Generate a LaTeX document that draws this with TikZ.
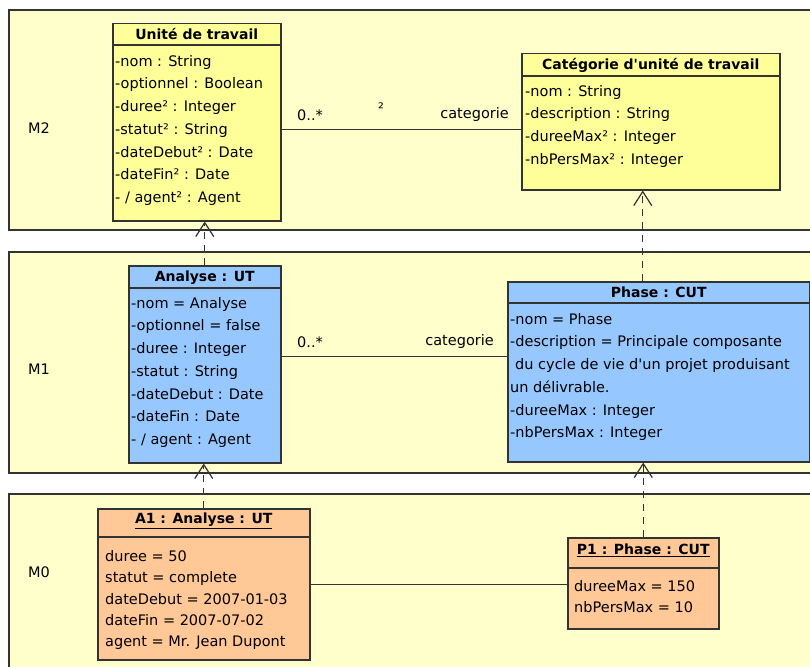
\documentclass[tikz,border=0pt]{standalone}
\usepackage{fontspec}
\setmainfont{DejaVu Sans}
\usepackage{xcolor}
\usetikzlibrary{positioning}
\usetikzlibrary{arrows.meta}

\definecolor{layerbg}{RGB}{255,255,204}
\definecolor{classyellow}{RGB}{255,255,153}
\definecolor{classblue}{RGB}{150,200,255}
\definecolor{objorange}{RGB}{255,200,150}
\definecolor{bordergray}{RGB}{51,51,51}

\begin{document}
\begin{tikzpicture}[x=1pt,y=-1pt,
	metalayer/.style={draw=bordergray,line width=1.2pt,fill=layerbg},
	classbox/.style={draw=bordergray,line width=1.5pt,inner sep=0pt,anchor=north west},
	classtitle/.style={font=\fontsize{14}{16}\selectfont\bfseries,inner sep=0pt},
	attrs/.style={font=\fontsize{14.5}{22.7}\selectfont,align=left,inner sep=0pt,anchor=north west},
	assoctext/.style={font=\fontsize{14.5}{17}\selectfont,inner sep=0pt},
	assoc/.style={draw=bordergray,line width=1.2pt},
	realize/.style={draw=bordergray,line width=1.2pt,dash pattern=on 7pt off 6pt,
		-{Straight Barb[length=14pt,width=18pt,line width=1.2pt]}}]
	
	\useasboundingbox (0,0) rectangle (810,666);
	\clip (0,0) rectangle (810,666);
	\fill[white] (0,0) rectangle (810,666);
	
	% meta levels
	\draw[metalayer] (9,10) rectangle (830,230);
	\draw[metalayer] (9,252) rectangle (830,473);
	\draw[metalayer] (9,494) rectangle (830,690);
	\node[assoctext,anchor=west] (m2) at (28,128) {M2};
	\node[assoctext,anchor=west] (m1) at (28,369) {M1};
	\node[assoctext,anchor=west] (m0) at (28,572) {M0};
	
	% M2 classes
	\node[classbox,fill=classyellow,minimum width=168pt,minimum height=197pt] (ut) at (112,23) {};
	\draw[bordergray,line width=1.5pt] ([yshift=-22pt]ut.north west) -- ([yshift=-22pt]ut.north east);
	\node[classtitle] (ut-title) at ([yshift=-11.5pt]ut.north) {Unité de travail};
	\node[attrs] (ut-attr) at (115,55) {-nom : String\\-optionnel : Boolean\\-duree² : Integer\\-statut² : String\\-dateDebut² : Date\\-dateFin² : Date\\- / agent² : Agent};
	
	\node[classbox,fill=classyellow,minimum width=258pt,minimum height=136pt] (cat) at (521,53) {};
	\draw[bordergray,line width=1.5pt] ([yshift=-23pt]cat.north west) -- ([yshift=-23pt]cat.north east);
	\node[classtitle] (cat-title) at ([yshift=-12pt]cat.north) {Catégorie d\textquotesingle unité de travail};
	\node[attrs] (cat-attr) at (525,85) {-nom : String\\-description : String\\-dureeMax² : Integer\\-nbPersMax² : Integer};
	
	% M1 classes
	\node[classbox,fill=classblue,minimum width=152pt,minimum height=197pt] (an) at (128,265) {};
	\draw[bordergray,line width=1.5pt] ([yshift=-23pt]an.north west) -- ([yshift=-23pt]an.north east);
	\node[classtitle] (an-title) at ([yshift=-12.5pt]an.north) {Analyse : UT};
	\node[attrs] (an-attr) at (131,297) {-nom = Analyse\\-optionnel = false\\-duree : Integer\\-statut : String\\-dateDebut : Date\\-dateFin : Date\\- / agent : Agent};
	
	\node[classbox,fill=classblue,minimum width=302pt,minimum height=180pt] (ph) at (507,281) {};
	\draw[bordergray,line width=1.5pt] ([yshift=-22pt]ph.north west) -- ([yshift=-22pt]ph.north east);
	\node[classtitle] (ph-title) at ([yshift=-11.5pt]ph.north) {Phase : CUT};
	\node[attrs] (ph-attr) at (510,313) {-nom = Phase\\-description = Principale composante\\\hspace*{5pt}du cycle de vie d\textquotesingle un projet produisant\\un délivrable.\\-dureeMax : Integer\\-nbPersMax : Integer};
	
	% M0 objects
	\node[classbox,fill=objorange,minimum width=212pt,minimum height=151pt] (a1) at (97,508) {};
	\draw[bordergray,line width=1.5pt] ([yshift=-29pt]a1.north west) -- ([yshift=-29pt]a1.north east);
	\node[classtitle] (a1-title) at ([yshift=-12.5pt]a1.north) {\underline{A1 : Analyse : UT}};
	\node[attrs,font=\fontsize{14.5}{21.4}\selectfont] (a1-attr) at (105,550) {duree = 50\\statut = complete\\dateDebut = 2007-01-03\\dateFin = 2007-07-02\\agent = Mr. Jean Dupont};
	
	\node[classbox,fill=objorange,minimum width=151pt,minimum height=91pt] (p1) at (567,537) {};
	\draw[bordergray,line width=1.5pt] ([yshift=-31pt]p1.north west) -- ([yshift=-31pt]p1.north east);
	\node[classtitle] (p1-title) at ([yshift=-13.5pt]p1.north) {\underline{P1 : Phase : CUT}};
	\node[attrs,font=\fontsize{14.5}{21.7}\selectfont] (p1-attr) at (574,580) {dureeMax = 150\\nbPersMax = 10};
	
	% associations
	\draw[assoc] ([yshift=-7.5pt]ut.east) coordinate (ut-end) -- (ut-end -| cat.west);
	\node[assoctext,anchor=west] (m2-mult) at (297,115) {0..*};
	\node[assoctext] (m2-sup) at (381,108) {²};
	\node[assoctext,anchor=east] (m2-role) at (509,114) {categorie};
	
	\draw[assoc] ([yshift=7.5pt]an.east) coordinate (an-end) -- (an-end -| ph.west);
	\node[assoctext,anchor=west] (m1-mult) at (297,342) {0..*};
	\node[assoctext,anchor=east] (m1-role) at (494,341) {categorie};
	
	\draw[assoc] (a1.east) -- (a1.east -| p1.west);
	
	% instance-of links
	\draw[realize] (an.north) -- (an.north |- ut.south);
	\draw[realize] ([xshift=-16pt]ph.north) coordinate (ph-top) -- (ph-top |- cat.south);
	\draw[realize] (a1.north) -- (a1.north |- an.south);
	\draw[realize] (p1.north) -- (p1.north |- ph.south);
	
\end{tikzpicture}
\end{document}
